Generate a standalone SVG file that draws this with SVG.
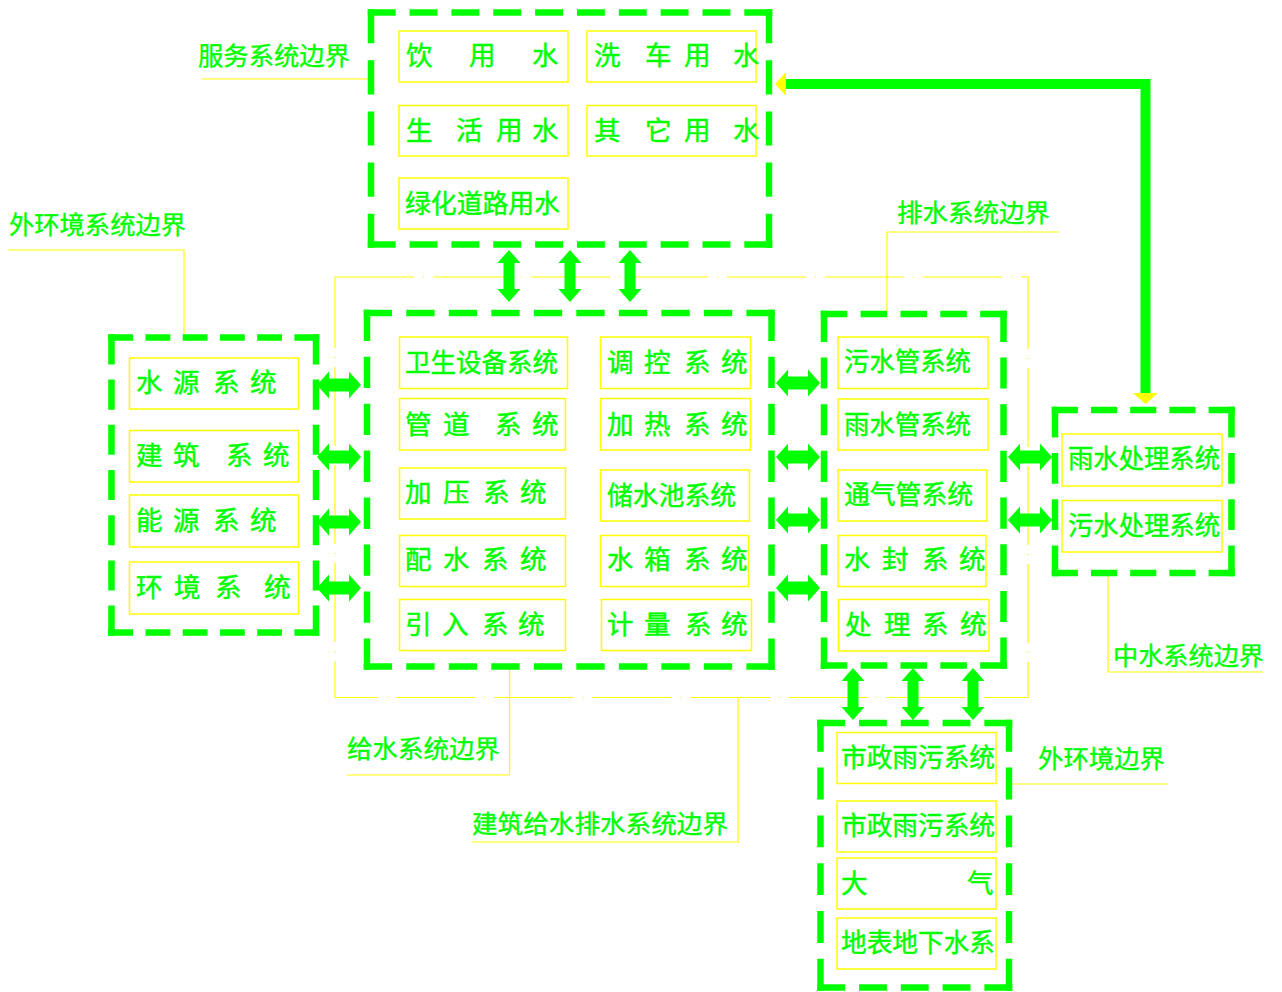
<svg xmlns="http://www.w3.org/2000/svg" xmlns:xlink="http://www.w3.org/1999/xlink" width="1282" height="992" viewBox="0 0 1282 992">
<style>
.t{font-family:"Noto Sans CJK SC","Noto Sans CJK JP",sans-serif;font-size:26.5px;fill:#00ff00;stroke:#00ff00;stroke-width:0.45}
.lb{font-family:"Noto Sans CJK SC","Noto Sans CJK JP",sans-serif;font-size:25px;fill:#00ff00;stroke:#00ff00;stroke-width:0.35}
.yb{fill:none;stroke:#ffff00;stroke-width:1.5}
.ld{fill:none;stroke:#ffff00;stroke-width:1.2}
.db{fill:none;stroke:#00ff00;stroke-width:6.5;stroke-dasharray:2 1}
.g{fill:#00ff00}
</style>
<defs>
<path id="ah" d="M-22 0 L-10 -13.5 L-10 -6.5 L10 -6.5 L10 -13.5 L22 0 L10 13.5 L10 6.5 L-10 6.5 L-10 13.5 Z"/>
<path id="av" d="M0 -26 L-11.5 -13 L-5.5 -13 L-5.5 13 L-11.5 13 L0 26 L11.5 13 L5.5 13 L5.5 -13 L11.5 -13 Z"/>
</defs>
<rect width="1282" height="992" fill="#ffffff"/>

<g id="boundary-building">
<path d="M335 277 H1028 V697.5 H335 Z" fill="none" stroke="#ffff00" stroke-width="1.2" stroke-dasharray="79 9 1 9"/>
</g>

<g id="leaders">
<path class="ld" d="M201.5 79 H371"/>
<path class="ld" d="M8 250 H184 V337"/>
<path class="ld" d="M887 311 V232 H1059"/>
<path class="ld" d="M1108 573 V672 H1263"/>
<path class="ld" d="M1010 784 H1168"/>
<path class="ld" d="M509.6 666 V775 H347"/>
<path class="ld" d="M738 698 V842 H471.5"/>
</g>

<g id="service">
<path class="db" pathLength="29" d="M367.75 12.5 H772.25"/>
<path class="db" pathLength="29" d="M367.75 244.5 H772.25"/>
<path class="db" pathLength="14" d="M371 9.25 V247.75"/>
<path class="db" pathLength="14" d="M769 9.25 V247.75"/>
<rect class="yb" x="399" y="31" width="169" height="51"/>
<rect class="yb" x="587" y="31" width="169" height="51"/>
<rect class="yb" x="399" y="105.5" width="169" height="50.5"/>
<rect class="yb" x="587" y="105.5" width="169" height="50.5"/>
<rect class="yb" x="399" y="178" width="169" height="51"/>
<text class="t" x="406 469 532" y="65">饮用水</text>
<text class="t" x="594 645 684 733" y="65">洗车用水</text>
<text class="t" x="406 456 496 532" y="140">生活用水</text>
<text class="t" x="594 645 684 733" y="140">其它用水</text>
<text class="t" x="405" y="213" textLength="155" lengthAdjust="spacingAndGlyphs">绿化道路用水</text>
<text class="lb" x="198" y="65" textLength="152" lengthAdjust="spacingAndGlyphs">服务系统边界</text>
</g>

<g id="env">
<path class="db" pathLength="17" d="M108.25 337.5 H319.25"/>
<path class="db" pathLength="17" d="M108.25 632.5 H319.25"/>
<path class="db" pathLength="20" d="M111.5 334.25 V635.75"/>
<path class="db" pathLength="20" d="M316 334.25 V635.75"/>
<rect class="yb" x="129.5" y="358" width="169" height="51"/>
<rect class="yb" x="129.5" y="430.5" width="169" height="51.5"/>
<rect class="yb" x="129.5" y="495" width="169" height="52"/>
<rect class="yb" x="129.5" y="562" width="169" height="52"/>
<text class="t" x="136 173 213 250" y="392">水源系统</text>
<text class="t" x="136 173 226 263" y="465">建筑系统</text>
<text class="t" x="136 173 213 250" y="530">能源系统</text>
<text class="t" x="136 174 215 264" y="597">环境系统</text>
<text class="lb" x="9" y="234" textLength="177" lengthAdjust="spacingAndGlyphs">外环境系统边界</text>
</g>

<g id="supply">
<path class="db" pathLength="29" d="M363.75 313 H774.75"/>
<path class="db" pathLength="29" d="M363.75 666.5 H774.75"/>
<path class="db" pathLength="23" d="M367 309.75 V669.75"/>
<path class="db" pathLength="23" d="M771.5 309.75 V669.75"/>
<rect class="yb" x="399.5" y="337" width="168" height="51.5"/>
<rect class="yb" x="399.5" y="398.5" width="166" height="51.5"/>
<rect class="yb" x="399.5" y="468" width="166" height="51"/>
<rect class="yb" x="399.5" y="535.5" width="166" height="51"/>
<rect class="yb" x="399.5" y="599.5" width="166" height="51"/>
<rect class="yb" x="600.5" y="337" width="150" height="51.5"/>
<rect class="yb" x="600.5" y="398.5" width="150" height="51.5"/>
<rect class="yb" x="600.5" y="470" width="149" height="51"/>
<rect class="yb" x="600.5" y="535.5" width="148" height="51"/>
<rect class="yb" x="601.5" y="599.5" width="150" height="51"/>
<text class="t" x="405" y="372" textLength="153" lengthAdjust="spacingAndGlyphs">卫生设备系统</text>
<text class="t" x="405 443 495 532" y="434">管道系统</text>
<text class="t" x="405 443 483 520" y="502">加压系统</text>
<text class="t" x="405 443 482 520" y="569">配水系统</text>
<text class="t" x="405 442 482 518" y="634">引入系统</text>
<text class="t" x="607 644 684 721" y="372">调控系统</text>
<text class="t" x="607 644 684 721" y="434">加热系统</text>
<text class="t" x="607" y="505" textLength="129" lengthAdjust="spacingAndGlyphs">储水池系统</text>
<text class="t" x="607 644 684 721" y="569">水箱系统</text>
<text class="t" x="607 644 685 721" y="634">计量系统</text>
<text class="lb" x="347" y="758" textLength="153" lengthAdjust="spacingAndGlyphs">给水系统边界</text>
</g>

<g id="drainage">
<path class="db" pathLength="14" d="M820.75 314 H1006.75"/>
<path class="db" pathLength="14" d="M820.75 665.5 H1006.75"/>
<path class="db" pathLength="23" d="M824 310.75 V668.75"/>
<path class="db" pathLength="23" d="M1003.5 310.75 V668.75"/>
<rect class="yb" x="838" y="337" width="150" height="51.5"/>
<rect class="yb" x="838" y="399" width="150" height="51"/>
<rect class="yb" x="838" y="470" width="149" height="51"/>
<rect class="yb" x="838" y="535.5" width="148" height="51"/>
<rect class="yb" x="838.5" y="599.5" width="150.5" height="51.5"/>
<text class="t" x="844" y="371" textLength="127" lengthAdjust="spacingAndGlyphs">污水管系统</text>
<text class="t" x="844" y="434" textLength="127" lengthAdjust="spacingAndGlyphs">雨水管系统</text>
<text class="t" x="844" y="504" textLength="129" lengthAdjust="spacingAndGlyphs">通气管系统</text>
<text class="t" x="844 882 922 959" y="569">水封系统</text>
<text class="t" x="845 884 922 960" y="634">处理系统</text>
<text class="lb" x="897" y="222" textLength="153" lengthAdjust="spacingAndGlyphs">排水系统边界</text>
</g>

<g id="reclaimed">
<path class="db" pathLength="14" d="M1051.75 410 H1234.75"/>
<path class="db" pathLength="14" d="M1051.75 573 H1234.75"/>
<path class="db" pathLength="11" d="M1055 406.75 V576.25"/>
<path class="db" pathLength="11" d="M1231.5 406.75 V576.25"/>
<rect class="yb" x="1062" y="434" width="160" height="52"/>
<rect class="yb" x="1062" y="500.5" width="160" height="51.5"/>
<text class="t" x="1068" y="468" textLength="152" lengthAdjust="spacingAndGlyphs">雨水处理系统</text>
<text class="t" x="1068" y="535" textLength="152" lengthAdjust="spacingAndGlyphs">污水处理系统</text>
<text class="lb" x="1113" y="665" textLength="151" lengthAdjust="spacingAndGlyphs">中水系统边界</text>
</g>

<g id="outer-env">
<path class="db" pathLength="14" d="M817.25 723 H1012.25"/>
<path class="db" pathLength="14" d="M817.25 987.5 H1012.25"/>
<path class="db" pathLength="17" d="M820.5 719.75 V990.75"/>
<path class="db" pathLength="17" d="M1009 719.75 V990.75"/>
<rect class="yb" x="837" y="732.5" width="159" height="51"/>
<rect class="yb" x="837" y="801" width="159" height="51"/>
<rect class="yb" x="837" y="858" width="159" height="51"/>
<rect class="yb" x="837" y="918" width="159" height="51"/>
<text class="t" x="841" y="767" textLength="154" lengthAdjust="spacingAndGlyphs">市政雨污系统</text>
<text class="t" x="841" y="835" textLength="154" lengthAdjust="spacingAndGlyphs">市政雨污系统</text>
<text class="t" x="841 967" y="893">大气</text>
<text class="t" x="841" y="952" textLength="154" lengthAdjust="spacingAndGlyphs">地表地下水系</text>
<text class="lb" x="1038" y="768" textLength="127" lengthAdjust="spacingAndGlyphs">外环境边界</text>
</g>

<g id="building-label">
<text class="lb" x="472" y="833" textLength="256" lengthAdjust="spacingAndGlyphs">建筑给水排水系统边界</text>
</g>

<g id="connectors" class="g">
<use xlink:href="#av" x="509" y="276"/>
<use xlink:href="#av" x="570" y="276"/>
<use xlink:href="#av" x="630" y="276"/>
<use xlink:href="#ah" x="339" y="385"/>
<use xlink:href="#ah" x="339" y="457"/>
<use xlink:href="#ah" x="339" y="522"/>
<use xlink:href="#ah" x="339" y="588"/>
<use xlink:href="#ah" x="798" y="383"/>
<use xlink:href="#ah" x="798" y="457"/>
<use xlink:href="#ah" x="798" y="520"/>
<use xlink:href="#ah" x="798" y="588"/>
<use xlink:href="#ah" x="1030" y="457"/>
<use xlink:href="#ah" x="1030" y="520"/>
<use xlink:href="#av" x="853" y="694"/>
<use xlink:href="#av" x="913" y="694"/>
<use xlink:href="#av" x="973" y="694"/>
<path d="M1145.5 394 V84 H785" fill="none" stroke="#00ff00" stroke-width="10"/>
<polygon points="775,84 786,72 786,96" fill="#ffff00"/>
<polygon points="1133,393 1158,393 1145.5,404" fill="#ffff00"/>
</g>
</svg>
